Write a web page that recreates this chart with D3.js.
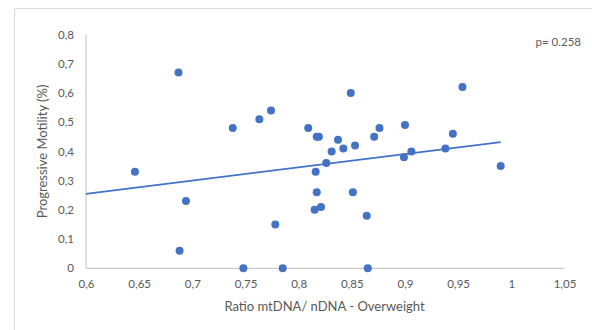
<!DOCTYPE html>
<html>
<head>
<meta charset="utf-8">
<script src="https://cdn.jsdelivr.net/npm/d3@7"></script>
<style>
  html, body { margin: 0; padding: 0; background: #fff; }
  svg { display: block; font-family: Lato, "Open Sans", sans-serif; }
</style>
</head>
<body>
<svg id="chart" width="592" height="330"></svg>
<script>
// mtDNA/nDNA ratio (overweight group) against progressive motility
const ratio = [0.646, 0.687, 0.688, 0.694, 0.738, 0.748, 0.763, 0.774, 0.778, 0.785,
               0.809, 0.815, 0.816, 0.817, 0.817, 0.819, 0.821, 0.826, 0.831, 0.837,
               0.842, 0.849, 0.851, 0.853, 0.864, 0.865, 0.871, 0.876, 0.899, 0.900,
               0.906, 0.938, 0.945, 0.954, 0.990];
const motility = [0.33, 0.67, 0.06, 0.23, 0.48, 0.00, 0.51, 0.54, 0.15, 0.00,
                  0.48, 0.20, 0.33, 0.45, 0.26, 0.45, 0.21, 0.36, 0.40, 0.44,
                  0.41, 0.60, 0.26, 0.42, 0.18, 0.00, 0.45, 0.48, 0.38, 0.49,
                  0.40, 0.41, 0.46, 0.62, 0.35];
// linear trend line end points
const trendX = [0.6, 0.99];
const trendY = [0.255, 0.432];
const xTicks = [0.6, 0.65, 0.7, 0.75, 0.8, 0.85, 0.9, 0.95, 1, 1.05];
const yTicks = [0, 0.1, 0.2, 0.3, 0.4, 0.5, 0.6, 0.7, 0.8];
const pLabel = "p= 0.258";
const xTitle = "Ratio mtDNA/ nDNA - Overweight";
const yTitle = "Progressive Motility (%)";

const svg = d3.select("#chart");
const fmt = v => String(+v.toFixed(2)).replace(".", ",");

// chart frame
svg.append("path")
  .attr("d", "M14.5,330 L14.5,8.5 L592,8.5")
  .attr("fill", "none").attr("stroke", "#d9d9d9").attr("stroke-width", 1);

const x = d3.scaleLinear().domain([0.6, 1.05]).range([86, 564.5]);
const y = d3.scaleLinear().domain([0, 0.8]).range([268.3, 34.5]);

const xAxis = svg.append("g").attr("transform", `translate(0,${y(0)})`)
  .call(d3.axisBottom(x).tickValues(xTicks).tickFormat(fmt).tickSize(0).tickPadding(12));
const yAxis = svg.append("g").attr("transform", `translate(${x(0.6)},0)`)
  .call(d3.axisLeft(y).tickValues(yTicks).tickFormat(fmt).tickSize(0).tickPadding(12));

[xAxis, yAxis].forEach(g => {
  g.select(".domain").attr("stroke", "#bfbfbf").attr("stroke-width", 1);
  g.selectAll("text").attr("fill", "#595959").attr("font-size", 11.5)
    .attr("font-family", "Lato, sans-serif");
});
yAxis.select(".domain").attr("d", `M0,${y(0.8)}V${y(0)}`);
xAxis.select(".domain").attr("d", `M0,0H${x(1.05) - x(0.6)}`).attr("transform", `translate(${x(0.6)},0)`);

// points
svg.append("g").selectAll("circle")
  .data(ratio.map((r, i) => [r, motility[i]]))
  .join("circle")
  .attr("cx", d => x(d[0])).attr("cy", d => y(d[1]))
  .attr("r", 4).attr("fill", "#4472c4");

// trend line
svg.append("path")
  .datum(trendX.map((v, i) => [v, trendY[i]]))
  .attr("d", d3.line().x(d => x(d[0])).y(d => y(d[1])))
  .attr("fill", "none").attr("stroke", "#4472c4").attr("stroke-width", 1.8);

// annotation and titles
svg.append("text").attr("x", 581).attr("y", 46).attr("text-anchor", "end")
  .attr("fill", "#595959").attr("font-size", 11.5).text(pLabel);

svg.append("text").attr("x", 324.5).attr("y", 311).attr("text-anchor", "middle")
  .attr("fill", "#595959").attr("font-size", 13).text(xTitle);

svg.append("text").attr("transform", `translate(47,${(y(0) + y(0.8)) / 2}) rotate(-90)`)
  .attr("text-anchor", "middle")
  .attr("fill", "#595959").attr("font-size", 13).text(yTitle);
</script>
</body>
</html>
